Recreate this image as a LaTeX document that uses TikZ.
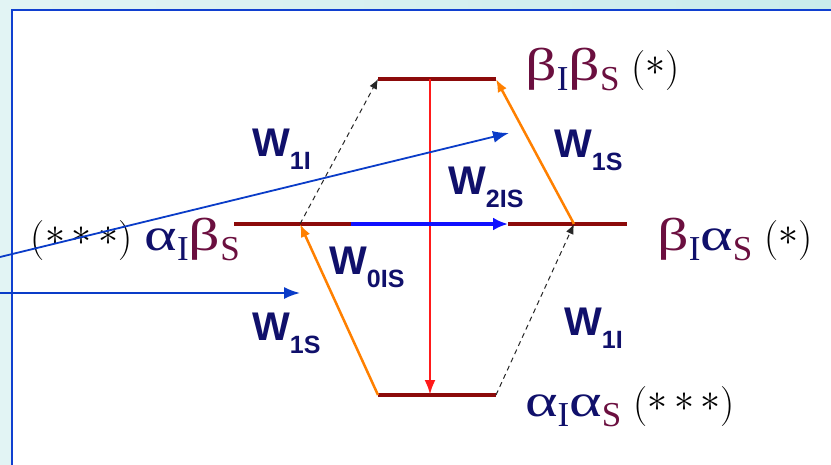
\documentclass[tikz,border=0pt]{standalone}
\usepackage{fix-cm}
\usepackage{graphicx}
\usepackage{fontspec}
\usepackage{tikz}
\usetikzlibrary{arrows.meta,positioning}
\newfontfamily\wfont{Liberation Sans}
\newfontfamily\grkfont{Liberation Serif}
\definecolor{cnavy}{HTML}{10106B}
\definecolor{cmaroon}{HTML}{6B0F3F}
\definecolor{clevel}{HTML}{8C0A0A}
\definecolor{corange}{HTML}{FF8000}
\definecolor{cred}{HTML}{FF1A1A}
\definecolor{cblue}{HTML}{1010FF}
\definecolor{cpointer}{HTML}{0A3CC8}
\definecolor{cframe}{HTML}{1040D0}
\definecolor{bgleft}{HTML}{E2F4F4}
\definecolor{bgright}{HTML}{C9ECEC}

\newcommand{\wlab}[1]{{\wfont\bfseries\fontsize{40}{40}\selectfont W\raisebox{-13pt}{\fontsize{25}{25}\selectfont #1}}}
\newcommand{\sbs}[2]{\raisebox{-10pt}{\fontsize{35}{35}\selectfont\textcolor{#1}{#2}}}
\newcommand{\al}{\scalebox{1.35}[1]{\textcolor{cnavy}{α}}}
\newcommand{\be}{\scalebox{1.35}[1]{\textcolor{cmaroon}{β}}}
\newcommand{\st}{\mathord{\ast}}
\newcommand{\stars}[1]{{\rmfamily\fontsize{40}{40}\selectfont(\raisebox{5pt}{\fontsize{40}{40}\selectfont$#1$})}}

\begin{document}
\begin{tikzpicture}[
  x=1pt, y=-1pt,
  level/.style={line width=4pt, clevel},
  wlabel/.style={anchor=base west, inner sep=0pt, text=cnavy},
  spinlab/.style={inner sep=0pt, font=\grkfont\fontsize{46}{46}\selectfont},
  orangearr/.style={-{Latex[length=13pt,width=10pt]}, line width=2.5pt, corange},
  dasharr/.style={-{Latex[length=10pt,width=8pt]}, line width=1pt, black!85, dash pattern=on 5pt off 4pt},
  redarr/.style={-{Latex[length=15pt,width=11pt]}, line width=2.8pt, cred},
  bluearr/.style={-{Latex[length=15pt,width=13pt]}, line width=4pt, cblue},
  pointer/.style={-{Latex[length=16pt,width=12pt]}, line width=1.8pt, cpointer},
]
\useasboundingbox (0,0) rectangle (831,464);
\clip (0,0) rectangle (831,464);
\fill[left color=bgleft, right color=bgright] (0,0) rectangle (831,464);
\filldraw[fill=white, draw=cframe, line width=2pt] (12,10) rectangle (900,500);

\coordinate (bb-w) at (378,79);
\coordinate (bb-e) at (496,79);
\coordinate (bb-m) at (430,79);
\coordinate (ab-w) at (234,224);
\coordinate (ab-e) at (351,224);
\coordinate (ab-t) at (300,224);
\coordinate (ba-w) at (508,224);
\coordinate (ba-e) at (627,224);
\coordinate (ba-t) at (574,224);
\coordinate (aa-w) at (378,395);
\coordinate (aa-e) at (496,395);
\coordinate (aa-m) at (430,395);

\draw[level] (bb-w) -- (bb-e);
\draw[level] (ab-w) -- (ab-e);
\draw[level] (ba-w) -- (ba-e);
\draw[level] (aa-w) -- (aa-e);

\draw[redarr] (bb-m) -- (aa-m);
\draw[bluearr] (ab-e) -- (ba-w);
\draw[orangearr] (aa-w) -- (ab-t);
\draw[orangearr] (ba-t) -- (bb-e);
\draw[dasharr] (ab-t) -- (bb-w);
\draw[dasharr] (aa-e) -- (ba-t);

\node[spinlab, anchor=base west] (bb-lab) at (525,80)
  {\be\sbs{cnavy}{I}\be\sbs{cmaroon}{S}\hspace{12pt}\stars{\st}};
\node[spinlab, anchor=base east] (ab-lab) at (240,250)
  {\stars{\st\mkern3mu\st\mkern3mu\st}\hspace{12pt}\al\sbs{cnavy}{I}\be\sbs{cmaroon}{S}};
\node[spinlab, anchor=base west] (ba-lab) at (657,250)
  {\be\sbs{cnavy}{I}\al\sbs{cmaroon}{S}\hspace{12pt}\stars{\st}};
\node[spinlab, anchor=base west] (aa-lab) at (525,416)
  {\al\sbs{cnavy}{I}\al\sbs{cmaroon}{S}\hspace{12pt}\stars{\st\mkern3mu\st\mkern3mu\st}};

\node[wlabel] (w1i-up) at (252,156) {\wlab{1I}};
\node[wlabel] (w1s-up) at (554,157) {\wlab{1S}};
\node[wlabel] (w2is) at (448,194) {\wlab{2IS}};
\node[wlabel] (w0is) at (329,274) {\wlab{0IS}};
\node[wlabel] (w1s-dn) at (252,340) {\wlab{1S}};
\node[wlabel] (w1i-dn) at (564,335) {\wlab{1I}};

\coordinate (ptr-a) at (0,257);
\coordinate (ptr-a-end) at (509,133);
\coordinate (ptr-b) at (0,293);
\coordinate (ptr-b-end) at (300,293);
\draw[pointer] (ptr-a) -- (ptr-a-end);
\draw[pointer] (ptr-b) -- (ptr-b-end);
\end{tikzpicture}
\end{document}
